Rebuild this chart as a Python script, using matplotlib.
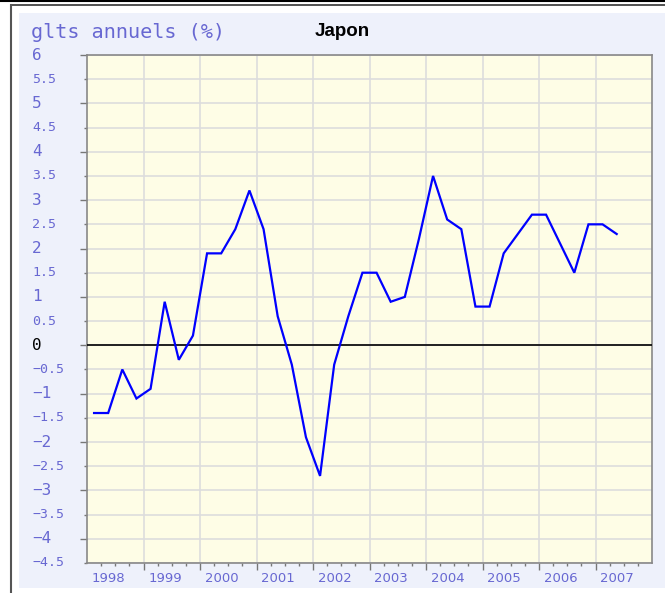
import matplotlib.pyplot as plt
from matplotlib.transforms import blended_transform_factory
from matplotlib.patches import Rectangle
from matplotlib.lines import Line2D

# glissement annuel trimestriel, 1998T1 -> 2007T2
start_year = 1998
values = [-1.4, -1.4, -0.5, -1.1,
          -0.9, 0.9, -0.3, 0.2,
          1.9, 1.9, 2.4, 3.2,
          2.4, 0.6, -0.4, -1.9,
          -2.7, -0.4, 0.6, 1.5,
          1.5, 0.9, 1.0, 2.2,
          3.5, 2.6, 2.4, 0.8,
          0.8, 1.9, 2.3, 2.7,
          2.7, 2.1, 1.5, 2.5,
          2.5, 2.3]
years = list(range(1998, 2008))
y_ticks = [v / 2 for v in range(-9, 13)]

title = "glts annuels (%)"
country = "Japon"

txt_col = "#6868d2"
W, H = 665, 593

fig = plt.figure(figsize=(W / 100, H / 100), dpi=100)
fig.patch.set_facecolor("white")

# fond et cadre de la page
fig.patches.append(Rectangle((19 / W, 1 - 588 / H), (W - 19) / W, (588 - 13) / H,
                             transform=fig.transFigure, facecolor="#eef1fb",
                             edgecolor="none", zorder=-10))
fig.lines.append(Line2D([0, 1], [1 - 1 / H] * 2, transform=fig.transFigure,
                        color="black", lw=1.5, zorder=-5))
fig.lines.append(Line2D([10.5 / W, 1], [1 - 4.8 / H] * 2, transform=fig.transFigure,
                        color="#333333", lw=1.2, zorder=-5))
fig.lines.append(Line2D([10.5 / W] * 2, [0, 1 - 4.8 / H], transform=fig.transFigure,
                        color="#555555", lw=1.5, zorder=-5))

ax = fig.add_axes([87 / W, 1 - 563 / H, (652 - 87) / W, (563 - 55) / H])
ax.set_zorder(2)
ax.set_facecolor("#fefde6")

x = [start_year + (i + 0.5) / 4 for i in range(len(values))]
ax.plot(x, values, color="#0000ff", lw=1.6, zorder=4, solid_joinstyle="miter")
ax.axhline(0, color="black", lw=1.2, zorder=3)

ax.set_xlim(1998, 2008)
ax.set_ylim(-4.5, 6)

ax.set_xticks(years[1:], minor=False)
ax.set_xticks([start_year + q / 4 for q in range(40) if q % 4], minor=True)
ax.set_yticks([t for t in y_ticks if t == int(t)])
ax.set_yticks([t for t in y_ticks if t != int(t)], minor=True)
ax.set_xticklabels([])
ax.set_yticklabels([])
ax.tick_params(which="major", length=5, width=1, color="#777777", direction="out")
ax.tick_params(which="minor", length=2.5, width=1, color="#777777", direction="out")

ax.grid(True, which="both", axis="y", color="#dddddd", lw=1.2, zorder=1)
ax.grid(True, which="major", axis="x", color="#dddddd", lw=1.2, zorder=1)
ax.set_axisbelow(True)
for s in ax.spines.values():
    s.set_color("#888888")
    s.set_linewidth(1.2)

# etiquettes de l'axe y, alignees a gauche
ytr = blended_transform_factory(fig.transFigure, ax.transData)
for t in y_ticks:
    if t == 0:
        lab, col = "0", "black"
    else:
        lab = ("%g" % t).replace("-", "\u2212")
        col = txt_col
    fs = 11.5 if t == int(t) else 9.5
    ax.text(32 / W, t, lab, transform=ytr, ha="left", va="center",
            fontsize=fs, color=col, family="DejaVu Sans Mono", clip_on=False)

# annees sous l'axe x
xtr = blended_transform_factory(ax.transData, fig.transFigure)
for yr in years:
    ax.text(yr + 0.38, 1 - 578 / H, str(yr), transform=xtr, ha="center",
            va="center", fontsize=9.5, color=txt_col, clip_on=False)

fig.text(31 / W, 1 - 33 / H, title, ha="left", va="center", fontsize=14.5,
         color=txt_col, family="DejaVu Sans Mono")
fig.text(342 / W, 1 - 32 / H, country, ha="center", va="center", fontsize=13.5,
         fontweight="bold", color="black", family="Liberation Sans")

fig.savefig("out.png", dpi=100)
